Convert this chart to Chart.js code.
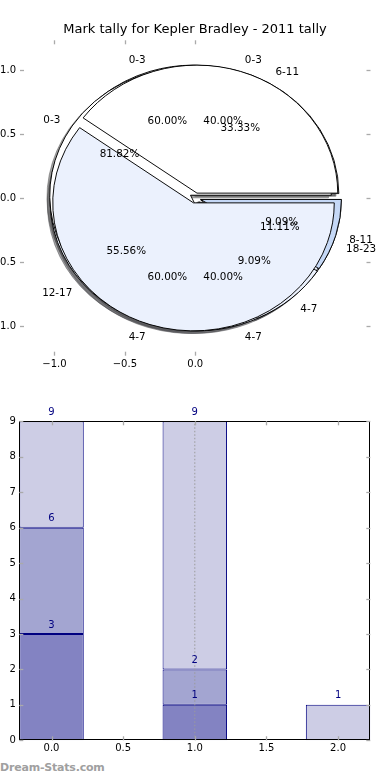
<!DOCTYPE html>
<html>
<head>
<meta charset="utf-8">
<script src="https://cdn.jsdelivr.net/npm/chart.js@4.4.1/dist/chart.umd.min.js"></script>
<style>
html,body{margin:0;padding:0;background:#fff;}
#wrap{position:relative;width:390px;height:780px;overflow:hidden;background:#fff;}
#wrap canvas{position:absolute;left:0;}
#wm{position:absolute;left:0px;top:761px;font:bold 11px "DejaVu Sans",sans-serif;color:#a0a0a0;white-space:nowrap;letter-spacing:-0.2px;}
</style>
</head>
<body>
<div id="wrap"><div id="wm">Dream-Stats.com</div></div>
<script>
// ---------------- data ----------------
const TITLE = 'Mark tally for Kepler Bradley - 2011 tally';

// pies, listed bottom -> top
const PIE_D_LABELS = ['6-11', '12-17', '18-23'];
const PIE_D_VALUES = [3, 5, 1];
const PIE_B_LABELS = ['0-3', '4-7'];
const PIE_B_VALUES = [3, 2];
const PIE_C_LABELS = ['0-3', '4-7', '8-11'];
const PIE_C_VALUES = [9, 1, 1];
const PIE_A_LABELS = ['0-3', '4-7'];
const PIE_A_VALUES = [2, 3];
const PIE_X_TICKS = [-1, -0.5, 0];
const PIE_Y_TICKS = [-1, -0.5, 0, 0.5, 1];

const BAR_POSITIONS = [0, 1, 2];
const BAR_LAYER1 = [3, 1, null];
const BAR_LAYER2 = [3, 1, null];
const BAR_LAYER3 = [3, 7, 1];
const BAR_X_TICKS = [0, 0.5, 1, 1.5, 2];
const BAR_Y_TICKS = [0, 1, 2, 3, 4, 5, 6, 7, 8, 9];
const MARKER_X = 1;

// ---------------- styles ----------------
const FONT = '"DejaVu Sans", sans-serif';
const LABEL_COLORS = {'0-3':'#ffffff','4-7':'#ebf1fd','8-11':'#c5d8f6','6-11':'#ffffff','12-17':'#ebf1fd','18-23':'#ffffff'};
const LAYER_COLORS = ['#8383c2', '#a3a5d1', '#cdcde5'];
const EDGE = '#000080';
const TICK_COLOR = '#aaaaaa';
const EXPLODE = 0.04;
const SHADOW_DX = -2.8, SHADOW_DY = 2.6;
const W = 390, TOP_H = 385, BAR_TOP = 385, BAR_H = 395;

const PIES = [
  {labels: PIE_D_LABELS, values: PIE_D_VALUES},
  {labels: PIE_B_LABELS, values: PIE_B_VALUES},
  {labels: PIE_C_LABELS, values: PIE_C_VALUES},
  {labels: PIE_A_LABELS, values: PIE_A_VALUES}
];

const wrap = document.getElementById('wrap');
function addCanvas(top, h, z) {
  const c = document.createElement('canvas');
  c.width = W; c.height = h;
  c.style.top = top + 'px'; c.style.width = W + 'px'; c.style.height = h + 'px';
  c.style.zIndex = z;
  wrap.appendChild(c);
  return c;
}
const fmt1 = v => (v < 0 ? '\u2212' : '') + Math.abs(v).toFixed(1);

// inward tick marks on all four sides
const tickMarks = {
  id: 'tickMarks',
  afterDraw(chart, args, opts) {
    const {ctx, chartArea: a} = chart;
    const xs = chart.scales.x, ys = chart.scales.y;
    ctx.save();
    if (opts.frame) {
      ctx.strokeStyle = '#000'; ctx.lineWidth = 1;
      ctx.strokeRect(Math.round(a.left) + 0.5, Math.round(a.top) + 0.5, Math.round(a.right - a.left) - 1, Math.round(a.bottom - a.top) - 1);
    }
    ctx.strokeStyle = TICK_COLOR; ctx.lineWidth = 1.3;
    const L = 4;
    xs.ticks.forEach(t => {
      const px = Math.round(xs.getPixelForValue(t.value)) + 0.5;
      ctx.beginPath(); ctx.moveTo(px, a.top); ctx.lineTo(px, a.top + L); ctx.stroke();
      ctx.beginPath(); ctx.moveTo(px, a.bottom); ctx.lineTo(px, a.bottom - L); ctx.stroke();
    });
    ys.ticks.forEach(t => {
      const py = Math.round(ys.getPixelForValue(t.value)) + 0.5;
      ctx.beginPath(); ctx.moveTo(a.left, py); ctx.lineTo(a.left + L, py); ctx.stroke();
      ctx.beginPath(); ctx.moveTo(a.right, py); ctx.lineTo(a.right - L, py); ctx.stroke();
    });
    ctx.restore();
  }
};

// percent + category labels of every pie
const pieLabels = {
  id: 'pieLabels',
  afterDraw(chart) {
    const {ctx} = chart;
    const xs = chart.scales.x, ys = chart.scales.y;
    ctx.save();
    ctx.fillStyle = '#000';
    ctx.font = '10.4px ' + FONT;
    ctx.textBaseline = 'middle';
    PIES.forEach(p => {
      const total = p.values.reduce((s, v) => s + v, 0);
      let acc = 0;
      p.values.forEach((v, i) => {
        const a0 = acc / total * 2 * Math.PI;
        acc += v;
        const a1 = acc / total * 2 * Math.PI;
        const m = (a0 + a1) / 2;
        const ex = EXPLODE * Math.cos(m), ey = EXPLODE * Math.sin(m);
        const lx = ex + 1.1 * Math.cos(m), ly = ey + 1.1 * Math.sin(m);
        ctx.textAlign = lx < 0 ? 'right' : 'left';
        ctx.fillText(p.labels[i], xs.getPixelForValue(lx), ys.getPixelForValue(ly) + 1);
        const px = ex + 0.6 * Math.cos(m), py = ey + 0.6 * Math.sin(m);
        ctx.textAlign = 'center';
        ctx.fillText((v / total * 100).toFixed(2) + '%', xs.getPixelForValue(px), ys.getPixelForValue(py) + 1);
      });
    });
    ctx.restore();
  }
};

// ---------------- canvases ----------------
const shadowCanvases = PIES.map(() => addCanvas(0, TOP_H, 1));
const pieCanvases = PIES.map(() => addCanvas(0, TOP_H, 2));
const axesCanvas = addCanvas(0, TOP_H, 3);
const barCanvas = addCanvas(BAR_TOP, BAR_H, 1);

// ---------------- pie axes ----------------
const axesChart = new Chart(axesCanvas, {
  type: 'scatter',
  data: {datasets: []},
  options: {
    responsive: false, animation: false, events: [],
    layout: {padding: 0},
    plugins: {
      legend: {display: false}, tooltip: {enabled: false},
      title: {display: true, text: TITLE, color: '#000', font: {family: FONT, size: 13, weight: 'normal'}, padding: {top: 22.2, bottom: 2.5}},
      tickMarks: {frame: false}
    },
    scales: {
      x: {
        type: 'linear', min: -1.245, max: 1.245, offset: false,
        grid: {display: false, drawTicks: false}, border: {display: false},
        afterBuildTicks: s => { s.ticks = PIE_X_TICKS.map(v => ({value: v})); },
        afterFit: s => { s.height = 29.3; },
        ticks: {color: '#000', font: {family: FONT, size: 10}, padding: 3, maxRotation: 0, autoSkip: false, callback: fmt1}
      },
      y: {
        type: 'linear', min: -1.232, max: 1.232,
        grid: {display: false, drawTicks: false}, border: {display: false},
        afterBuildTicks: s => { s.ticks = PIE_Y_TICKS.map(v => ({value: v})); },
        afterFit: s => { s.width = 20; },
        ticks: {color: '#000', font: {family: FONT, size: 10}, padding: 4, autoSkip: false, callback: fmt1}
      },
      y2: {
        type: 'linear', position: 'right', min: -1.232, max: 1.232,
        grid: {display: false, drawTicks: false}, border: {display: false},
        ticks: {display: false},
        afterFit: s => { s.width = 19.5; }
      }
    }
  },
  plugins: [tickMarks, pieLabels]
});

const axX = axesChart.scales.x, axY = axesChart.scales.y;
const CX = axX.getPixelForValue(0), CY = axY.getPixelForValue(0);
const RX = axX.getPixelForValue(1) - CX, RY = CY - axY.getPixelForValue(1);

function shade(hex) {
  const n = parseInt(hex.slice(1), 16);
  const r = Math.round(((n >> 16) & 255) * 0.3), g = Math.round(((n >> 8) & 255) * 0.3), b = Math.round((n & 255) * 0.3);
  return `rgba(${r},${g},${b},0.5)`;
}

function explodePlugin(shadow) {
  return {
    id: 'explode',
    afterUpdate(chart) {
      chart.getDatasetMeta(0).data.forEach(arc => {
        const m = (arc.startAngle + arc.endAngle) / 2;
        arc.x += Math.cos(m) * EXPLODE * RX;
        arc.y += Math.sin(m) * EXPLODE * RX;
      });
    },
    beforeDatasetsDraw(chart) {
      const ctx = chart.ctx;
      ctx.save();
      if (shadow) ctx.translate(SHADOW_DX, SHADOW_DY);
      ctx.translate(CX, CY);
      ctx.scale(1, -RY / RX);   // elliptical axes, counter-clockwise from east
      ctx.translate(-CX, -CY);
    },
    afterDatasetsDraw(chart) { chart.ctx.restore(); }
  };
}

function makePie(canvas, pie, shadow) {
  const pad = {left: 0, right: 0, top: 0, bottom: 0};
  if (CX < W / 2) pad.right = W - 2 * CX; else pad.left = 2 * CX - W;
  if (CY < TOP_H / 2) pad.bottom = TOP_H - 2 * CY; else pad.top = 2 * CY - TOP_H;
  const colors = pie.labels.map(l => shadow ? shade(LABEL_COLORS[l]) : LABEL_COLORS[l]);
  return new Chart(canvas, {
    type: 'pie',
    data: {labels: pie.labels, datasets: [{
      data: pie.values, backgroundColor: colors, borderColor: shadow ? colors : '#000',
      borderWidth: 1, borderAlign: 'center', borderJoinStyle: 'miter',
      radius: RX, rotation: 90, clip: false
    }]},
    options: {
      responsive: false, animation: false, events: [],
      radius: RX, rotation: 90,
      layout: {padding: pad},
      plugins: {legend: {display: false}, tooltip: {enabled: false}, title: {display: false}}
    },
    plugins: [explodePlugin(shadow)]
  });
}
PIES.forEach((p, i) => makePie(shadowCanvases[i], p, true));
PIES.forEach((p, i) => makePie(pieCanvases[i], p, false));

// ---------------- stacked bars ----------------
const LAYERS = [BAR_LAYER1, BAR_LAYER2, BAR_LAYER3];
const barLabels = {
  id: 'barLabels',
  afterDatasetsDraw(chart) {
    const {ctx} = chart;
    const xs = chart.scales.x, ys = chart.scales.y;
    ctx.save();
    ctx.fillStyle = EDGE; ctx.font = '10px ' + FONT;
    ctx.textAlign = 'center'; ctx.textBaseline = 'middle';
    BAR_POSITIONS.forEach((x, i) => {
      let cum = 0;
      LAYERS.forEach(layer => {
        const v = layer[i];
        if (v === null || v === undefined) return;
        cum += v;
        ctx.fillText(String(cum), xs.getPixelForValue(x), ys.getPixelForValue(cum) - 9);
      });
    });
    ctx.restore();
  }
};

new Chart(barCanvas, {
  type: 'bar',
  data: {
    datasets: [
      {type: 'line', data: [{x: MARKER_X, y: BAR_Y_TICKS[0]}, {x: MARKER_X, y: BAR_Y_TICKS[BAR_Y_TICKS.length - 1]}],
       borderColor: '#9a9a9a', borderDash: [1.5, 2], borderWidth: 1, pointRadius: 0, order: -1},
      ...LAYERS.map((layer, k) => ({
        data: BAR_POSITIONS.map((x, i) => ({x: x, y: layer[i]})),
        backgroundColor: LAYER_COLORS[k], borderColor: EDGE, borderWidth: 1, borderSkipped: false,
        barPercentage: 0.9, categoryPercentage: 1
      }))
    ]
  },
  options: {
    responsive: false, animation: false, events: [],
    layout: {padding: {top: 36.3, right: 19.7, left: 0, bottom: 0}},
    plugins: {legend: {display: false}, tooltip: {enabled: false}, tickMarks: {frame: true}},
    scales: {
      x: {
        type: 'linear', min: -0.225, max: 2.225, stacked: true, offset: false,
        grid: {display: false, drawTicks: false}, border: {display: false},
        afterBuildTicks: s => { s.ticks = BAR_X_TICKS.map(v => ({value: v})); },
        afterFit: s => { s.height = 39.7; },
        ticks: {color: '#000', font: {family: FONT, size: 10}, padding: 2, maxRotation: 0, autoSkip: false, callback: v => v.toFixed(1)}
      },
      y: {
        type: 'linear', min: 0, max: 9, stacked: true,
        grid: {display: false, drawTicks: false}, border: {display: false},
        afterBuildTicks: s => { s.ticks = BAR_Y_TICKS.map(v => ({value: v})); },
        afterFit: s => { s.width = 19.3; },
        ticks: {color: '#000', font: {family: FONT, size: 10}, padding: 3.5, autoSkip: false, callback: v => String(v)}
      }
    }
  },
  plugins: [tickMarks, barLabels]
});
</script>
</body>
</html>
